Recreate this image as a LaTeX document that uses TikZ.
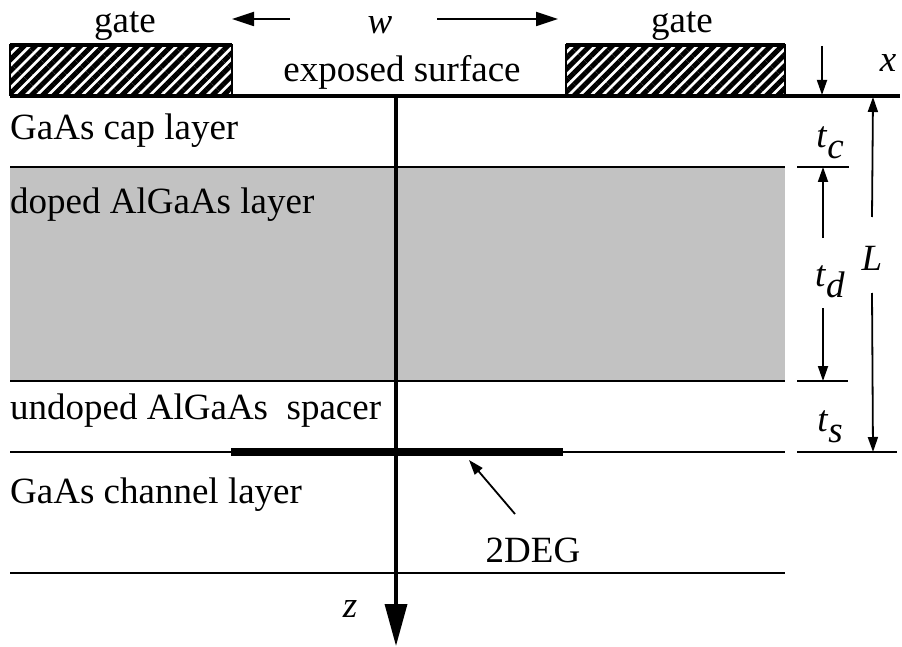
\documentclass[tikz,border=0pt]{standalone}
\usepackage{fontspec}
\setmainfont{Liberation Serif}
\usetikzlibrary{arrows.meta,patterns.meta}
\tikzset{
  lbl/.style={inner sep=0pt,font=\fontsize{37}{40}\selectfont},
  layerline/.style={line width=2.4pt},
  hatch/.style={draw,line width=2pt,pattern={Lines[angle=45,distance=8pt,line width=5pt]}},
  dim/.style={line width=1.8pt,-{Triangle[length=15pt,width=10pt]}},
  warr/.style={line width=1.8pt,-{Triangle[length=22pt,width=14pt]}},
}
\newcommand{\sub}[2]{\textit{#1}\raisebox{-11pt}{\textit{#2}}}
\begin{document}
\begin{tikzpicture}[x=1pt,y=-1pt]
\useasboundingbox (0,0) rectangle (902,647);
% doped layer shading
\fill[black!24] (10,167) rectangle (785,381);
% gates
\node[hatch,minimum width=222pt,minimum height=50pt,inner sep=0pt] (gL) at (121,70) {};
\node[hatch,minimum width=219pt,minimum height=50pt,inner sep=0pt] (gR) at (675.5,70) {};
\draw[line width=4pt] (10,45) -- (232,45);
\draw[line width=4pt] (566,45) -- (785,45);
% surface and layer lines
\coordinate (s0) at (10,96);
\coordinate (s1) at (900,96);
\draw[line width=4pt] (s0) -- (s1);
\draw[layerline] (10,167) -- (785,167);
\draw[layerline] (797,167) -- (849,167);
\draw[layerline] (10,381) -- (785,381);
\draw[layerline] (797,381) -- (848,381);
\draw[layerline] (10,452) -- (785,452);
\draw[layerline] (797,452) -- (897,452);
\draw[layerline] (10,573) -- (785,573);
% 2DEG bar
\coordinate (d0) at (231,452);
\coordinate (d1) at (563,452);
\draw[line width=8pt] (d0) -- (d1);
% z axis
\coordinate (za) at (396,96);
\coordinate (zb) at (396,646);
\draw[line width=3.5pt,-{Triangle[length=42pt,width=22pt]}] (za) -- (zb);
\node[lbl] (z) at (350,609) {\textit{z}};
% labels
\node[lbl] (gatel) at (125,26) {gate};
\node[lbl] (gater) at (682,26) {gate};
\node[lbl] (w) at (380,25) {\textit{w}};
\coordinate (wl0) at (290,19);
\coordinate (wl1) at (232,19);
\coordinate (wr0) at (437,19);
\coordinate (wr1) at (558,19);
\draw[warr] (wl0) -- (wl1);
\draw[warr] (wr0) -- (wr1);
\node[lbl] (exp) at (402,72) {exposed surface};
\node[lbl,anchor=west] (cap) at (10,131) {GaAs cap layer};
\node[lbl,anchor=west] (dop) at (10,205) {doped AlGaAs layer};
\node[lbl,anchor=west] (und) at (10,411) {undoped AlGaAs\ \ spacer};
\node[lbl,anchor=west] (chn) at (10,495) {GaAs channel layer};
\node[lbl] (deg) at (533,550) {2DEG};
\coordinate (dega) at (515,514);
\coordinate (degb) at (469,460);
\draw[dim] (dega) -- (degb);
% x dimension
\node[lbl] (xl) at (888,63) {\textit{x}};
\coordinate (xa) at (822,46);
\coordinate (xb) at (822,95);
\draw[dim] (xa) -- (xb);
% L dimension
\node[lbl] (L) at (872,258) {\textit{L}};
\coordinate (La) at (873,97);
\coordinate (Lb) at (873,452);
\draw[dim] (L.north |- 0,217) -- (La);
\draw[dim] (L.south |- 0,293) -- (Lb);
% t labels
\node[lbl] (tc) at (830,143) {\sub{t}{c}};
\node[lbl] (td) at (830,282) {\sub{t}{d}};
\node[lbl] (ts) at (830,427) {\sub{t}{s}};
\coordinate (tda) at (823,167);
\coordinate (tdb) at (823,381);
\draw[dim] (823,238) -- (tda);
\draw[dim] (823,308) -- (tdb);
\end{tikzpicture}
\end{document}
